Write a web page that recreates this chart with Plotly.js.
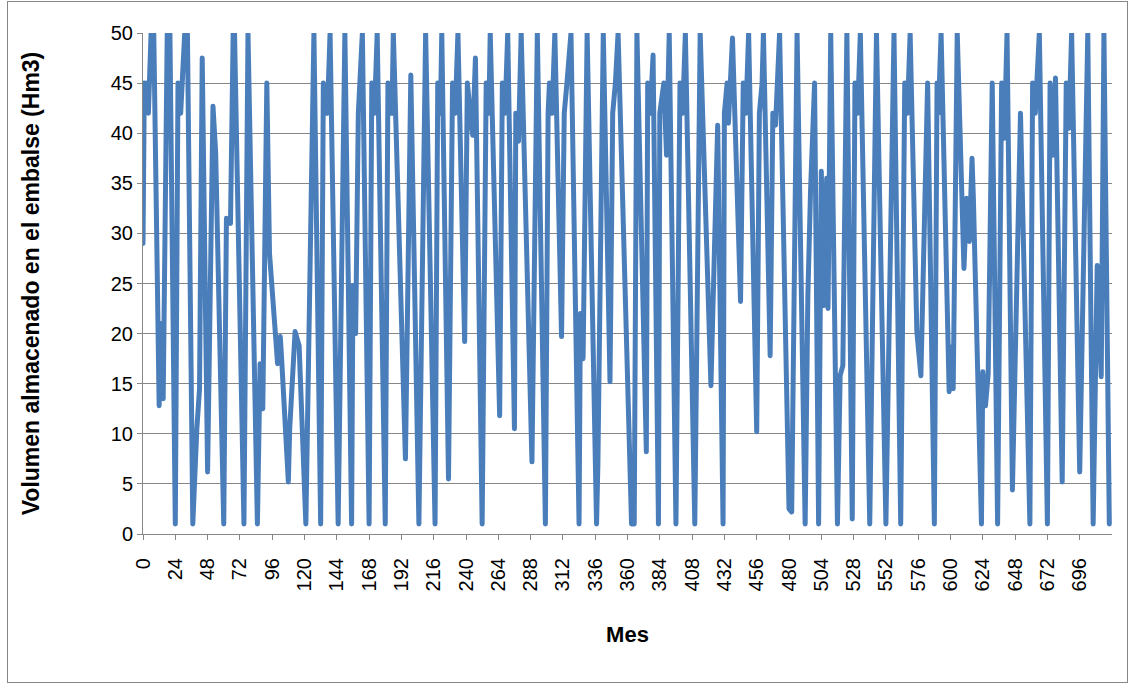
<!DOCTYPE html>
<html><head><meta charset="utf-8">
<script src="https://cdn.plot.ly/plotly-3.0.1.min.js"></script>
<style>
html,body{margin:0;padding:0;background:#fff}
#wrap{position:relative;width:1134px;height:684px}
#chart{width:1134px;height:684px}
#frame{position:absolute;left:7px;top:1px;width:1119px;height:680px;border:1px solid #868686;pointer-events:none}
</style>
</head><body>
<div id="wrap"><div id="chart"></div><div id="frame"></div></div>
<script>
// Month index of each visible vertex of the curve
const mes = [0,1,2,3,4,6,8,12,13,15,18,20,24,26,28,29,31,33,37,40,42,44,48,52,54,60,62,65,67,68,
75,78,85,87,89,92,94,100,102,103,108,109,113,116,121,127,132,134,137,139,
145,150,155,156,158,160,163,168,170,172,174,180,182,185,186,195,199,205,210,
217,219,221,222,227,230,232,234,239,241,244,245,247,252,255,257,258,265,267,269,271,276,277,279,281,
289,293,299,301,302,304,306,311,313,315,318,324,325,327,330,337,338,342,347,349,351,353,
363,365,367,374,375,377,379,383,384,387,389,391,396,399,401,403,409,410,414,422,427,
431,432,434,435,438,444,446,448,450,456,458,460,461,466,468,470,471,473,480,482,486,492,494,496,499,
502,504,506,508,509,511,516,518,520,523,527,529,531,533,540,545,552,558,563,566,568,570,
575,578,579,583,588,590,591,593,599,600,602,605,610,612,614,616,617,623,624,626,628,631,635,638,640,642,
646,652,659,661,663,666,672,674,676,678,683,686,688,690,696,698,702,706,709,712,714,718];

// Stored volume (Hm3) at those months
const volumen = [29,45,42,45,42,50,50,12.8,21,13.5,50,50,1,45,42,45,50,50,1,10.5,14.5,47.5,6.2,42.7,38,1,31.5,31,50,50,
1,50,1,17,12.5,45,28,17,19.7,17.5,5.2,10.5,20.2,18.8,1,50,1,45,42,50,
1,50,1,24.8,20,42,50,1,45,42,50,1,45,42,50,7.5,45.8,1,50,
1,45,42,50,5.5,45,42,50,19.2,45,40.8,39.8,47.5,1,45,42,50,11.8,45,42,50,10.5,42,39.2,50,
7.2,50,1,42,45,42,50,19.7,42,45,50,1,22,17.5,50,1,7,50,15.2,42,45,50,
1,1,50,8.2,45,42,47.8,1,42,45,37.8,50,1,45,42,50,3.5,1,50,14.8,40.8,
1,42,45,41,49.5,23.2,45,42,50,10.2,42,45,50,17.8,42,40.8,45,50,2.5,2.2,50,1,23.7,34.2,45,
1,36.2,22.8,35.5,22.5,50,1,15.8,16.8,50,1.5,45,42,50,1,50,1,50,1,45,42,50,
20.2,15.8,22.5,45,1,45,42,50,14.2,18.7,14.5,50,26.5,33.5,29.2,37.5,33.5,1,16.2,12.8,16,45,1,45,39.5,50,
4.4,42,1,45,42,50,1,45,37.8,45.5,5.2,45,40.5,50,6.2,21.8,50,1,26.8,15.7,50,1];

const yTicks = [0,5,10,15,20,25,30,35,40,45,50];
const xTicks = [0,24,48,72,96,120,144,168,192,216,240,264,288,312,336,360,384,408,432,456,480,504,528,552,576,600,624,648,672,696];
const xTitle = 'Mes';
const yTitle = 'Volumen almacenado en el embalse (Hm3)';

const FONT = 'Liberation Sans, Arial, sans-serif';
const GRID = '#878787';

const trace = {
  x: mes, y: volumen, type: 'scatter', mode: 'lines',
  line: {color: '#4a7ebb', width: 5},
  hoverinfo: 'skip', showlegend: false
};

const layout = {
  width: 1134, height: 684,
  margin: {l: 143, r: 22, t: 33, b: 150},
  paper_bgcolor: '#ffffff', plot_bgcolor: '#ffffff',
  font: {family: FONT, size: 20, color: '#000'},
  xaxis: {
    range: [0, 720], tickvals: xTicks, ticktext: xTicks.map(String),
    tickangle: -90, ticks: 'outside', ticklen: 5, tickcolor: GRID,
    ticklabelstandoff: 10,
    showline: true, linecolor: GRID, linewidth: 1, mirror: false,
    showgrid: false, zeroline: false,
    tickfont: {family: FONT, size: 20, color: '#000'},
    title: {text: '<b>' + xTitle + '</b>', font: {family: FONT, size: 22, color: '#000'}, standoff: 36}
  },
  yaxis: {
    range: [0, 50], tickvals: yTicks, ticktext: yTicks.map(String),
    ticks: 'outside', ticklen: 5, tickcolor: GRID,
    showline: true, linecolor: GRID, linewidth: 1,
    showgrid: true, gridcolor: GRID, gridwidth: 1, zeroline: false,
    tickfont: {family: FONT, size: 20, color: '#000'},
    title: {text: '<b>' + yTitle + '</b>', font: {family: FONT, size: 23, color: '#000'}, standoff: 64}
  }
};

Plotly.newPlot('chart', [trace], layout, {staticPlot: true, displayModeBar: false}).then(function () {
  document.querySelectorAll('.js-line').forEach(function (p) {
    p.style.strokeLinejoin = 'round';
    p.style.strokeLinecap = 'round';
  });
});
</script>
</body></html>
